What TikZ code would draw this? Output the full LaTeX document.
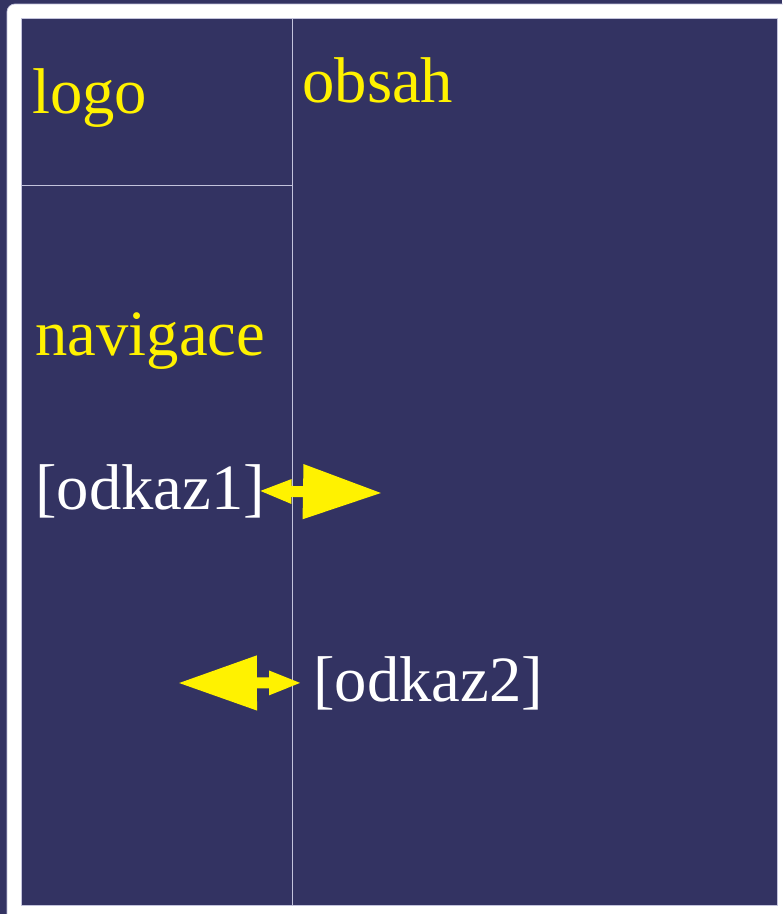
\documentclass[tikz,border=0pt]{standalone}
\usepackage{fontspec}
\setmainfont{Liberation Serif}
\usetikzlibrary{arrows.meta}
\definecolor{pozadi}{RGB}{51,51,98}
\definecolor{okraj}{RGB}{195,195,220}
\begin{document}
\begin{tikzpicture}[x=.02cm,y=-.02cm,line join=round,
	popis/.style={anchor=base west,inner sep=0pt,font=\fontsize{36.8}{40}\selectfont},
	velky/.tip={Triangle[length=1.58cm,width=1.04cm]},
	maly/.tip={Triangle[length=.66cm,width=.44cm]},
	sipka/.style={yellow,line width=.22cm,line join=miter}]
	\def\W{782} \def\H{914} \def\del{292}
	\useasboundingbox (0,0) rectangle (\W,\H);
	\fill[pozadi] (0,0) rectangle (\W,\H);
	\fill[white,draw=okraj,rounded corners=4.5pt] (7,4) rectangle (\W+30,\H+30);
	\filldraw[fill=pozadi,draw=okraj,line width=.5pt] (21,18) rectangle (777,905);
	\draw[okraj,line width=.5pt] (\del,18) -- (\del,905);
	\draw[okraj,line width=.5pt] (21,185) -- (\del,185);
	% popisky
	\node[popis,yellow] (logo) at (32,113) {logo};
	\node[popis,yellow] (obsah) at (302,102) {obsah};
	\node[popis,yellow] (navigace) at (35,355) {navigace};
	\node[popis,white] (odkaz1) at (35,509) {[odkaz1]};
	\node[popis,white] (odkaz2) at (313,701) {[odkaz2]};
	% sipky
	\coordinate (hrot1) at (382,493);
	\coordinate (hrot2) at (178,683);
	\draw[sipka,maly-velky] ([xshift=-.14cm]odkaz1.east) -- (hrot1);
	\draw[sipka,velky-maly] (hrot2) -- ([xshift=-.22cm]odkaz2.west);
\end{tikzpicture}
\end{document}
